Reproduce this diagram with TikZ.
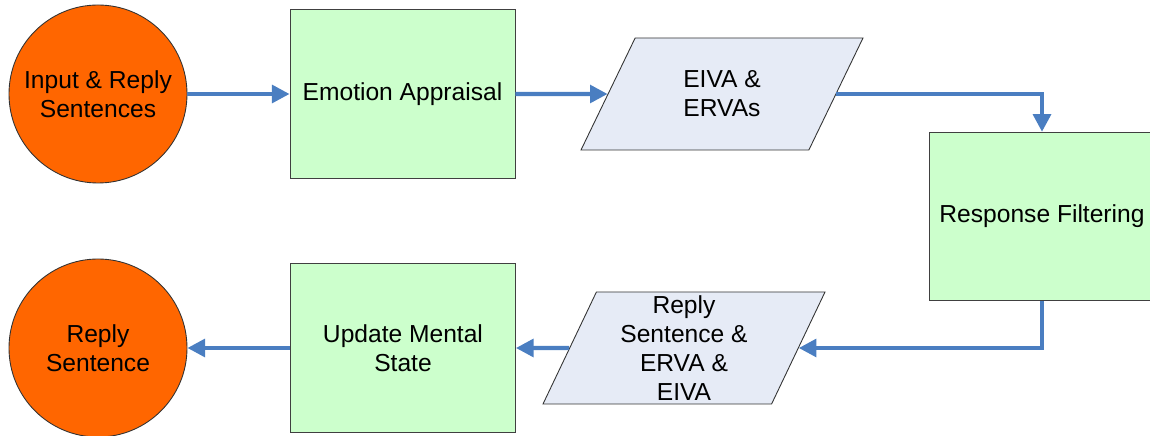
\documentclass[tikz,border=0pt]{standalone}
\usepackage{fontspec}
\setmainfont{Liberation Sans}
\usetikzlibrary{shapes.geometric,arrows.meta}
\definecolor{orangeFill}{RGB}{255,102,0}
\definecolor{greenFill}{RGB}{204,255,204}
\definecolor{dataFill}{RGB}{230,235,246}
\definecolor{flowBlue}{RGB}{74,126,193}

\begin{document}
\begin{tikzpicture}[
  every node/.style={font=\fontsize{14}{16.5}\selectfont, align=center},
  terminal/.style={circle, draw=black!80, line width=0.5pt, fill=orangeFill, minimum size=3.56cm, inner sep=0pt},
  process/.style={rectangle, draw=black!75, line width=0.5pt, fill=greenFill, minimum width=4.5cm, minimum height=3.37cm, inner sep=0pt},
  dataio/.style={trapezium, trapezium left angle=63, trapezium right angle=117, trapezium stretches body,
    draw=black!80, line width=0.5pt, fill=dataFill, minimum width=5.64cm, minimum height=2.24cm, inner xsep=0pt, inner ysep=0pt},
  flow/.style={draw=flowBlue, line width=2.3pt, -{Triangle[length=10pt,width=10pt]}}
]
\useasboundingbox (0,0) rectangle (23,8.72);

\node[terminal] (input) at (1.96,6.84) {Input \& Reply\\Sentences};
\node[process] (appraisal) at (8.05,6.84) {Emotion Appraisal};
\node[dataio, inner ysep=0.6cm] (eiva) at (14.44,6.84) {EIVA \&\\ERVAs};
\node[process] (filter) at (20.84,4.39) {Response Filtering};
\node[dataio] (reply) at (13.68,1.76) {Reply\\Sentence \&\\ERVA \&\\EIVA};
\node[process] (update) at (8.06,1.76) {Update Mental\\State};
\node[terminal] (output) at (1.96,1.76) {Reply\\Sentence};

\draw[flow] (input) -- (appraisal);
\draw[flow] (appraisal) -- (eiva);
\draw[flow] (eiva.east) -| (filter.north);
\draw[flow] (filter.south) |- (reply.east);
\draw[flow] (reply.west) -- (update.east);
\draw[flow] (update.west) -- (output.east);
\end{tikzpicture}
\end{document}
